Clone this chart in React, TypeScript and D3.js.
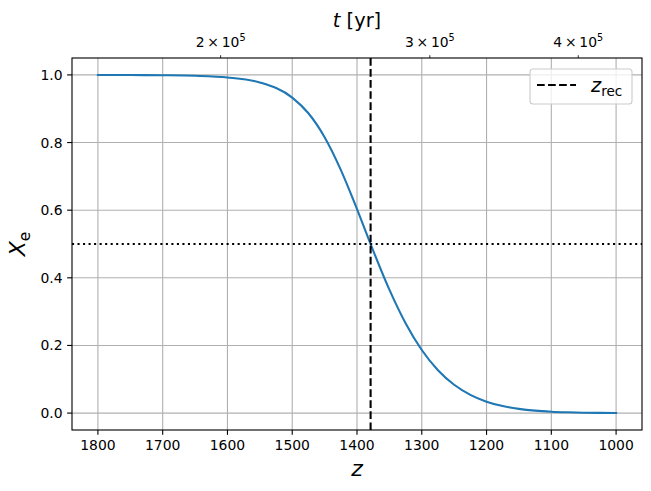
import React from "react";
import * as d3 from "d3";

// Redshift samples and ionization fraction
const zValues = [1800, 1750, 1700, 1650, 1600, 1550, 1500, 1475, 1450, 1425, 1400, 1375, 1350, 1325, 1300, 1275, 1250, 1225, 1200, 1175, 1150, 1125, 1100, 1075, 1050, 1025, 1000];
const xeValues = [0.9998, 0.9996, 0.999, 0.9974, 0.9925, 0.9777, 0.933, 0.8866, 0.8159, 0.7194, 0.6032, 0.4805, 0.3649, 0.2657, 0.1865, 0.1267, 0.0837, 0.0539, 0.0338, 0.0207, 0.0124, 0.0072, 0.0041, 0.0023, 0.0012, 0.0006, 0.0003];

const zRec = 1379;
const halfLevel = 0.5;

const xTicks = [1800, 1700, 1600, 1500, 1400, 1300, 1200, 1100, 1000];
const yTicks = [0.0, 0.2, 0.4, 0.6, 0.8, 1.0];
const topTicks = [2, 3, 4]; // ×10^5 yr
const xDomain = [1840, 960];
const yDomain = [-0.05, 1.05];
const tDomain = [1.4994e5, 4.526e5]; // age (yr) at the z-axis limits

const W = 651, H = 491;
const L = 72, R = 642, T = 58, B = 430;
const FONT = "DejaVu Sans, sans-serif";
const PT = 100 / 72;

export default function App() {
  const x = d3.scaleLinear().domain(xDomain).range([L, R]);
  const y = d3.scaleLinear().domain(yDomain).range([B, T]);
  const tx = d3.scaleLog().domain(tDomain).range([L, R]);

  const pts = zValues.map((z, i) => [z, xeValues[i]] as [number, number]);
  const line = d3.line<[number, number]>().x(d => x(d[0])).y(d => y(d[1])).curve(d3.curveMonotoneX);

  const lw = 1.5 * PT;
  const dashed = `${5.55 * PT} ${2.4 * PT}`;
  const dotted = `${1.5 * PT} ${2.475 * PT}`;

  return (
    <svg width={W} height={H} style={{ position: "absolute", left: 0, top: 0, background: "#fff" }} fontFamily={FONT}>
      <defs>
        <clipPath id="plot"><rect x={L} y={T} width={R - L} height={B - T} /></clipPath>
      </defs>
      <rect x={0} y={0} width={W} height={H} fill="#fff" />
      {/* grid */}
      <g stroke="#b0b0b0" strokeWidth={0.8 * PT}>
        {xTicks.map(t => <line key={"gx" + t} x1={x(t)} x2={x(t)} y1={T} y2={B} />)}
        {yTicks.map(t => <line key={"gy" + t} x1={L} x2={R} y1={y(t)} y2={y(t)} />)}
      </g>
      <g clipPath="url(#plot)">
        <path d={line(pts) || ""} fill="none" stroke="#1f77b4" strokeWidth={lw} strokeLinecap="square" />
        <line x1={x(zRec)} x2={x(zRec)} y1={T} y2={B} stroke="#000" strokeWidth={lw} strokeDasharray={dashed} />
        <line x1={L} x2={R} y1={y(halfLevel)} y2={y(halfLevel)} stroke="#000" strokeWidth={lw} strokeDasharray={dotted} />
      </g>
      {/* spines */}
      <rect x={L} y={T} width={R - L} height={B - T} fill="none" stroke="#000" strokeWidth={0.8 * PT} />
      {/* bottom ticks */}
      {xTicks.map(t => (
        <g key={"xt" + t}>
          <line x1={x(t)} x2={x(t)} y1={B} y2={B + 3.5 * PT} stroke="#000" strokeWidth={0.8 * PT} />
          <text x={x(t)} y={B + 19.5} textAnchor="middle" fontSize={13.9} fill="#000">{t}</text>
        </g>
      ))}
      {/* left ticks */}
      {yTicks.map(t => (
        <g key={"yt" + t}>
          <line x1={L - 3.5 * PT} x2={L} y1={y(t)} y2={y(t)} stroke="#000" strokeWidth={0.8 * PT} />
          <text x={L - 9.5} y={y(t)} dy="0.36em" textAnchor="end" fontSize={13.9} fill="#000">{t.toFixed(1)}</text>
        </g>
      ))}
      {/* top ticks (log time axis) */}
      {topTicks.map(m => (
        <g key={"tt" + m}>
          <line x1={tx(m * 1e5)} x2={tx(m * 1e5)} y1={T} y2={T - 2 * PT} stroke="#000" strokeWidth={0.6 * PT} />
          <text x={tx(m * 1e5)} y={T - 11} textAnchor="middle" fontSize={13.9} fill="#000">
            {m}{"\u2009×\u2009"}10<tspan fontSize={9.7} dy={-6}>5</tspan>
          </text>
        </g>
      ))}
      {/* axis labels */}
      <text x={(L + R) / 2} y={27} textAnchor="middle" fontSize={19.4} fill="#000">
        <tspan fontStyle="italic">t</tspan> [yr]
      </text>
      <text x={(L + R) / 2} y={476} textAnchor="middle" fontSize={22} fontStyle="italic" fill="#000">z</text>
      <text transform={`translate(25, ${(T + B) / 2}) rotate(-90)`} textAnchor="middle" fontSize={22} fill="#000">
        <tspan fontStyle="italic">X</tspan><tspan fontSize={15.4} dy={5}>e</tspan>
      </text>
      {/* legend */}
      <g>
        <rect x={530} y={69} width={102} height={35} rx={3} fill="#fff" fillOpacity={0.8} stroke="#cccccc" strokeWidth={0.8 * PT} />
        <line x1={537} x2={576} y1={85} y2={85} stroke="#000" strokeWidth={lw} strokeDasharray={dashed} />
        <text x={591} y={92} fontSize={19.4} fill="#000">
          <tspan fontStyle="italic">z</tspan><tspan fontSize={13.6} dy={4}>rec</tspan>
        </text>
      </g>
    </svg>
  );
}
